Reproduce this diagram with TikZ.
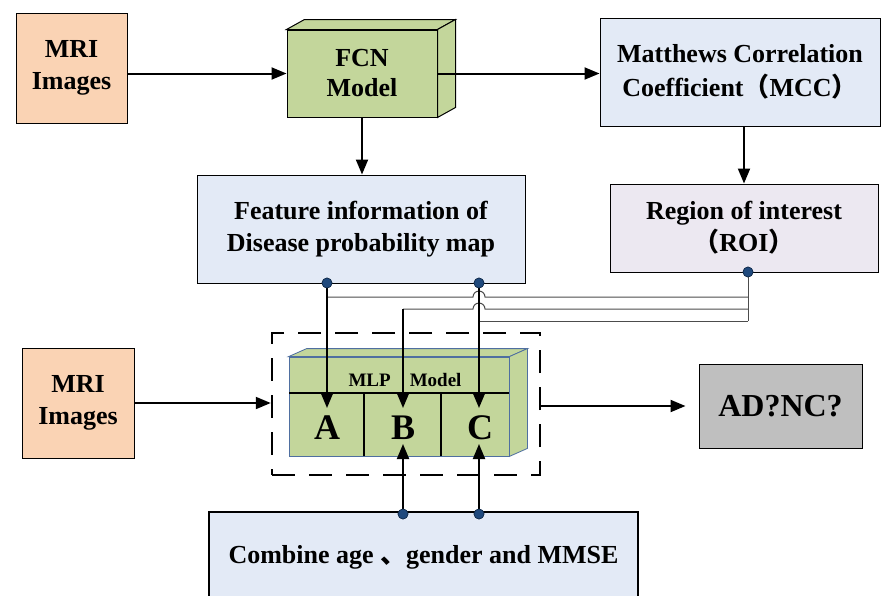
\documentclass[tikz,border=0pt]{standalone}
\usepackage{fontspec}
\setmainfont{Liberation Serif}
\newfontfamily\cjk{Noto Sans CJK SC}
\usetikzlibrary{arrows.meta,calc}

\definecolor{peach}{HTML}{FAD3B4}
\definecolor{paleblue}{HTML}{E3EAF6}
\definecolor{lavender}{HTML}{ECE8F1}
\definecolor{olivegreen}{HTML}{C3D69B}
\definecolor{slategray}{HTML}{BFBFBF}
\definecolor{dotblue}{HTML}{1F497D}
\definecolor{mlpedge}{HTML}{4F6FA0}

\begin{document}
\begin{tikzpicture}[x=1pt,y=-1pt,
  box/.style={draw=black, line width=1pt, align=center, inner sep=0pt,
    font=\bfseries\fontsize{26}{32}\selectfont},
  arr/.style={line width=2pt, -{Triangle[length=15pt,width=12pt]}},
  wire/.style={line width=1pt, draw=black!70},
  dot/.style={circle, fill=dotblue, draw=dotblue!60!black, line width=0.6pt,
    minimum size=10pt, inner sep=0pt},
  divider/.style={line width=1.6pt, draw=black},
  letter/.style={font=\bfseries\fontsize{36}{36}\selectfont, inner sep=0pt},
]
\useasboundingbox (0,0) rectangle (882,595);

% ---------- upper row ----------
\node[box, fill=peach, minimum width=111pt, minimum height=110pt] (mri1) at (71.5,68) {MRI\\Images};

\node[box, fill=olivegreen, minimum width=150pt, minimum height=87pt] (fcn) at (362,73.5) {FCN\\[-2pt]Model};
\draw[fill=olivegreen, line width=1pt] (fcn.north west) -- ++(18,-10)
  -- ($(fcn.north east)+(18,-10)$) -- (fcn.north east) -- cycle;
\draw[fill=olivegreen, line width=1pt] (fcn.north east) -- ++(18,-10)
  -- ($(fcn.south east)+(18,-10)$) -- (fcn.south east) -- cycle;

\node[box, fill=paleblue, minimum width=280pt, minimum height=108pt] (mcc) at (740,72)
  {Matthews Correlation\\[2pt]Coefficient{\cjk （}MCC{\cjk ）}};

\node[box, fill=paleblue, minimum width=328pt, minimum height=108pt] (feat) at (361,229)
  {Feature information of\\Disease probability map};

\node[box, fill=lavender, minimum width=268pt, minimum height=88pt] (roi) at (744,228)
  {Region of interest\\{\cjk （}ROI{\cjk ）}};

\draw[arr] (mri1.east |- fcn.west) -- (fcn.west);
\draw[arr] (fcn.east) -- (fcn.east -| mcc.west);
\draw[arr] (fcn.south) -- (fcn.south |- feat.north);
\draw[arr] (roi.north |- mcc.south) -- (roi.north);

% ---------- MLP block ----------
\node[draw=black, line width=2.5pt, dash pattern=on 23pt off 14pt,
  minimum width=268pt, minimum height=142pt] (frame) at (406,404) {};

\node[draw=mlpedge, line width=0.8pt, fill=olivegreen, minimum width=220pt,
  minimum height=99pt] (mlp) at (399,406.5) {};
\draw[fill=olivegreen, draw=mlpedge, line width=0.8pt] (mlp.north west) -- ++(18,-8)
  -- ($(mlp.north east)+(18,-8)$) -- (mlp.north east) -- cycle;
\draw[fill=olivegreen, draw=mlpedge, line width=0.8pt] (mlp.north east) -- ++(18,-8)
  -- ($(mlp.south east)+(18,-8)$) -- (mlp.south east) -- cycle;

\coordinate (rowl) at (289,393);
\coordinate (rowr) at (509,393);
\draw[divider] (rowl) -- (rowr);
\draw[divider] (364,393) -- (364,456);
\draw[divider] (441,393) -- (441,456);

\node[font=\bfseries\fontsize{19}{19}\selectfont] (mlptitle) at (405,380) {MLP\hspace{19pt}Model};
\node[letter] (A) at (327,428) {A};
\node[letter] (B) at (403,428) {B};
\node[letter] (C) at (480,428) {C};

\coordinate (Atop) at (327,408);
\coordinate (Btop) at (403,408);
\coordinate (Ctop) at (479,408);
\coordinate (Bbot) at (403,444);
\coordinate (Cbot) at (479,444);

% ---------- ROI wiring (hops over the C line) ----------
\node[dot] (rd) at (748,272) {};
\coordinate (r1) at (748,297);
\coordinate (r2) at (748,309);
\coordinate (r3) at (748,321);
\coordinate (a1) at (327,297);
\coordinate (b1) at (403,309);
\coordinate (c1) at (479,321);

\draw[wire] (rd) -- (r3);
\draw[wire] (r1) -- (485,297) arc[start angle=0, end angle=180, radius=6pt] -- (a1);
\draw[wire] (r2) -- (485,309) arc[start angle=0, end angle=180, radius=6pt] -- (b1);
\draw[wire] (r3) -- (c1);

% ---------- feature map to A and C, ROI to B ----------
\node[dot] (fd1) at (327,283) {};
\node[dot] (fd2) at (479,283) {};
\draw[arr] (fd1) -- (Atop);
\draw[arr] (fd2) -- (Ctop);
\draw[arr] (b1) -- (Btop);
\node[dot] at (fd1) {};
\node[dot] at (fd2) {};
\node[dot] at (rd) {};

% ---------- lower row ----------
\node[box, fill=peach, minimum width=112pt, minimum height=110pt] (mri2) at (78,403) {MRI\\Images};
\node[box, fill=slategray, minimum width=163pt, minimum height=84pt,
  font=\bfseries\fontsize{32}{32}\selectfont] (adnc) at (780.5,406) {AD?NC?};

\draw[arr] (mri2.east) -- (mri2.east -| frame.west);
\draw[arr, shorten >=13pt] (frame.east |- adnc.west) -- (adnc.west);

\node[box, fill=paleblue, line width=1.5pt, minimum width=429pt, minimum height=90pt] (comb)
  at (423.5,557) {Combine age {\cjk 、}gender and MMSE};

\node[dot] (bd1) at (403,514) {};
\node[dot] (bd2) at (479,514) {};
\draw[arr] (bd1) -- (Bbot);
\draw[arr] (bd2) -- (Cbot);
\node[dot] at (bd1) {};
\node[dot] at (bd2) {};
\end{tikzpicture}
\end{document}
